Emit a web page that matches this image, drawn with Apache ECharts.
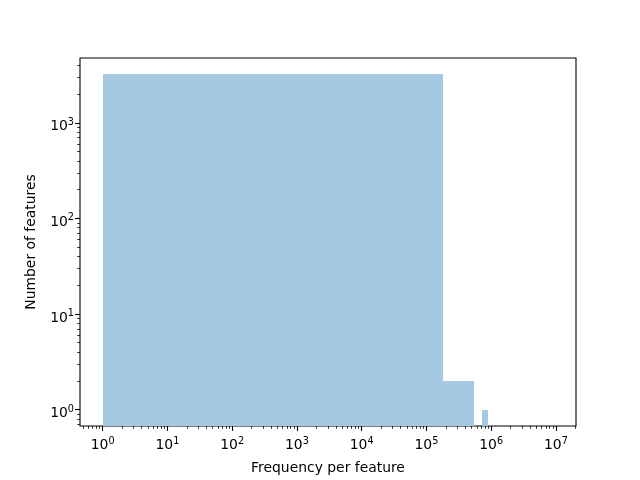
<!DOCTYPE html>
<html>
<head>
<meta charset="utf-8">
<script src="https://cdn.jsdelivr.net/npm/echarts@6/dist/echarts.min.js"></script>
<style>html,body{margin:0;padding:0;background:#fff;}#c{width:640px;height:480px;}</style>
</head>
<body>
<div id="c"></div>
<script>
// Histogram bins (frequency per feature) and counts
var binEdges = [1, 178000, 356000, 534000, 712000, 890000];
var counts = [3240, 2, 2, 0, 1];
// Axis ticks (exponents of 10)
var xTickExps = [0, 1, 2, 3, 4, 5, 6, 7];
var yTickExps = [0, 1, 2, 3];
var xRange = [-0.35, 7.31];
var yRange = [-0.172, 3.678];

function minorTicks(lo, hi) {
  var out = [];
  for (var n = Math.floor(lo) - 1; n <= Math.ceil(hi); n++) {
    for (var k = 2; k <= 9; k++) {
      var v = n + Math.log10(k);
      if (v >= lo && v <= hi) out.push(v);
    }
  }
  return out;
}

var barData = [];
for (var i = 0; i < counts.length; i++) {
  if (counts[i] > 0) barData.push([Math.log10(binEdges[i]), Math.log10(binEdges[i + 1]), Math.log10(counts[i])]);
}

var font = 'DejaVu Sans';
var rich = {
  b: { fontSize: 13.9, fontFamily: font, color: '#000' },
  s: { fontSize: 9.7, fontFamily: font, color: '#000', padding: [0, 0, 9, 0] }
};
function fmt(v) { return '{b|10}{s|' + Math.round(v) + '}'; }

var noLine = { show: false, onZero: false };
var chart = echarts.init(document.getElementById('c'), null, { renderer: 'canvas' });
chart.setOption({
  animation: false,
  grid: { left: 80, right: 64, top: 58, bottom: 54, show: true, borderColor: '#000', borderWidth: 1.1, backgroundColor: 'transparent' },
  xAxis: [{
    type: 'value', min: xRange[0], max: xRange[1], position: 'bottom',
    name: 'Frequency per feature', nameLocation: 'middle', nameGap: 35,
    nameTextStyle: { fontFamily: font, fontSize: 13.9, color: '#000' },
    axisLine: noLine,
    splitLine: { show: false },
    axisTick: { show: true, inside: false, length: 4.9, lineStyle: { color: '#000', width: 1.1 }, customValues: xTickExps },
    axisLabel: { show: true, margin: 10, customValues: xTickExps, formatter: fmt, rich: rich }
  }, {
    type: 'value', min: xRange[0], max: xRange[1], position: 'bottom',
    axisLine: noLine, splitLine: { show: false },
    axisTick: { show: true, length: 2.8, lineStyle: { color: '#000', width: 0.8 }, customValues: minorTicks(xRange[0], xRange[1]) },
    axisLabel: { show: false }
  }],
  yAxis: [{
    type: 'value', min: yRange[0], max: yRange[1], position: 'left',
    name: 'Number of features', nameLocation: 'middle', nameGap: 42, nameRotate: 90,
    nameTextStyle: { fontFamily: font, fontSize: 13.9, color: '#000' },
    axisLine: noLine, splitLine: { show: false },
    axisTick: { show: true, length: 4.9, lineStyle: { color: '#000', width: 1.1 }, customValues: yTickExps },
    axisLabel: { show: true, margin: 6, padding: [8, 0, 0, 0], customValues: yTickExps, formatter: fmt, rich: rich }
  }, {
    type: 'value', min: yRange[0], max: yRange[1], position: 'left',
    axisLine: noLine, splitLine: { show: false },
    axisTick: { show: true, length: 2.8, lineStyle: { color: '#000', width: 0.8 }, customValues: minorTicks(yRange[0], yRange[1]) },
    axisLabel: { show: false }
  }],
  series: [{
    type: 'custom',
    xAxisIndex: 0, yAxisIndex: 0,
    data: barData,
    renderItem: function (params, api) {
      var p0 = api.coord([api.value(0), api.value(2)]);
      var p1 = api.coord([api.value(1), yRange[0]]);
      var x0 = Math.round(p0[0]), x1 = Math.round(p1[0]);
      var y0 = Math.round(p0[1]);
      return {
        type: 'rect',
        shape: { x: x0, y: y0, width: x1 - x0, height: p1[1] - y0 },
        style: { fill: '#a5c9e1' }
      };
    },
    z: 1
  }]
});
</script>
</body>
</html>
